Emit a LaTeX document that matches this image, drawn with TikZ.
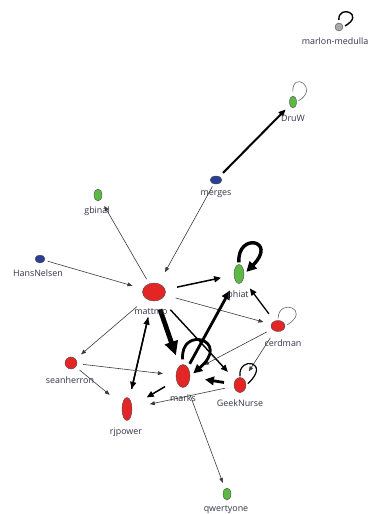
\documentclass[tikz,border=0pt]{standalone}
\usepackage{fontspec}
\setsansfont{Open Sans}
\usetikzlibrary{shapes.geometric,arrows.meta}
\definecolor{vred}{HTML}{E42526}
\definecolor{vgreen}{HTML}{5CB946}
\definecolor{vblue}{HTML}{2D3E96}
\definecolor{vgrey}{HTML}{A9A9A9}
\definecolor{lblcol}{HTML}{34344A}
\definecolor{thincol}{HTML}{3A3A3A}
\begin{document}
\begin{tikzpicture}[x=1pt,y=-1pt,
  vert/.style={ellipse,draw=black!70,line width=0.4pt,inner sep=0pt},
  red/.style={vert,fill=vred},
  green/.style={vert,fill=vgreen},
  blue/.style={vert,fill=vblue},
  lbl/.style={font=\sffamily\fontsize{8.9}{10}\selectfont,text=lblcol,inner sep=0pt},
  thinedge/.style={line width=0.6pt,draw=thincol,-{Triangle[length=5pt,width=3.8pt]}},
  midedge/.style={line width=1.5pt,draw=black,-{Triangle[length=7pt,width=6pt]}},
  thickedge/.style={line width=2.8pt,draw=black,-{Triangle[length=9pt,width=8.5pt]}},
  heavyedge/.style={line width=4.8pt,draw=black,-{Triangle[length=14pt,width=13pt]}},
  thinloop/.style={line width=0.6pt,draw=black!60},
]
\useasboundingbox (0,0) rectangle (368,514);

% vertices
\node[vert,circle,fill=vgrey,minimum size=8pt] (marlon) at (339,27) {};
\node[green,minimum width=7pt,minimum height=12pt] (druw) at (293,102) {};
\node[blue,minimum width=12pt,minimum height=8pt] (merges) at (216,180) {};
\node[green,minimum width=8pt,minimum height=12pt] (gbinal) at (98,195) {};
\node[blue,minimum width=10pt,minimum height=8pt] (hans) at (40,259) {};
\node[red,minimum width=23pt,minimum height=18pt] (mattmo) at (154,292) {};
\node[green,minimum width=10pt,minimum height=19pt] (phiat) at (239,274) {};
\node[red,minimum width=14pt,minimum height=11pt] (cerdman) at (278,326) {};
\node[red,minimum width=12pt,minimum height=12pt] (sean) at (71,363) {};
\node[red,minimum width=14pt,minimum height=23pt] (marks) at (183,376) {};
\node[red,minimum width=12pt,minimum height=15pt] (geek) at (240,385) {};
\node[red,minimum width=10pt,minimum height=23pt] (rjpower) at (127,409) {};
\node[green,minimum width=8pt,minimum height=12pt] (qwerty) at (227,494) {};

% edges
\draw[midedge,line width=2pt,shorten <=5pt,shorten >=6pt] (merges) -- (druw);
\draw[thinedge,shorten <=5pt,shorten >=7pt] (mattmo) -- (gbinal);
\draw[thinedge,shorten <=3pt,shorten >=13pt] (merges) -- (mattmo);
\draw[thinedge,shorten <=3pt,shorten >=11pt] (hans) -- (mattmo);
\draw[midedge,shorten <=12pt,shorten >=13pt] (mattmo) -- (phiat);
\draw[thinedge,shorten <=11pt,shorten >=8pt] (mattmo) -- (cerdman);
\draw[midedge,line width=1.3pt,shorten <=9pt,shorten >=11pt] (cerdman) -- (phiat);
\draw[heavyedge,shorten <=9pt,shorten >=11pt] (mattmo) -- (marks);
\draw[thinedge,shorten <=12pt,shorten >=7pt] (mattmo) -- (sean);
\draw[midedge,line width=1.4pt,shorten <=17pt,shorten >=10pt] (mattmo) -- (rjpower);
\draw[midedge,line width=1.4pt,shorten <=10pt,shorten >=17pt] (rjpower) -- (mattmo);
\draw[midedge,line width=1.4pt,shorten <=14pt,shorten >=11pt] (mattmo) -- (geek);
\draw[thickedge,shorten <=4pt,shorten >=11pt] (marks) -- (phiat);
\draw[thinedge,shorten <=6pt,shorten >=16pt] (cerdman) -- (marks);
\draw[thinedge,shorten <=8pt,shorten >=9pt] (cerdman) -- (geek);
\draw[thickedge,shorten <=10pt,shorten >=15pt] (geek) -- (marks);
\draw[thinedge,shorten <=9pt,shorten >=18pt] (geek) -- (rjpower);
\draw[midedge,shorten <=13pt,shorten >=17pt] (marks) -- (rjpower);
\draw[thinedge,shorten <=6pt,shorten >=13pt] (sean) -- (marks);
\draw[thinedge,shorten <=5pt,shorten >=16pt] (sean) -- (rjpower);
\draw[thinedge,shorten <=9pt,shorten >=6pt] (marks) -- (qwerty);

% self loops
\draw[line width=1.4pt,shorten <=3pt,shorten >=2pt] (marlon.north) .. controls (338,4) and (366,14) .. (marlon.east);
\draw[thinloop,shorten <=4pt,shorten >=2pt] (druw.north) .. controls (292,70) and (320,88) .. (druw.east);
\draw[thickedge,line width=3.4pt,-{Triangle[length=10pt,width=10pt]},shorten <=2pt,shorten >=3pt] (phiat.north) .. controls (237,232) and (278,240) .. (phiat.east);
\draw[thinloop,shorten <=2pt,shorten >=2pt] (cerdman.north) .. controls (279,297) and (312,310) .. (cerdman.east);
\draw[thickedge,shorten <=5pt,shorten >=4pt] (marks.north) .. controls (180,325) and (232,340) .. (marks.east);
\draw[line width=1.2pt,shorten <=1pt,shorten >=2pt] (geek.north) .. controls (238,355) and (272,362) .. (geek.east);

% labels
\node[lbl] (marlon-l) at (335,41) {marlon-medulla};
\node[lbl] (druw-l) at (293,118) {DruW};
\node[lbl] (merges-l) at (216,194) {merges};
\node[lbl] (gbinal-l) at (97,211) {gbinal};
\node[lbl] (hans-l) at (38,273) {HansNelsen};
\node[lbl] (mattmo-l) at (151,312) {mattmo};
\node[lbl] (phiat-l) at (238,295) {phiat};
\node[lbl] (cerdman-l) at (283,343) {cerdman};
\node[lbl] (sean-l) at (70,380) {seanherron};
\node[lbl] (marks-l) at (183,398) {marks};
\node[lbl] (geek-l) at (240,403) {GeekNurse};
\node[lbl] (rjpower-l) at (126,432) {rjpower};
\node[lbl] (qwerty-l) at (226,510) {qwertyone};
\end{tikzpicture}
\end{document}
